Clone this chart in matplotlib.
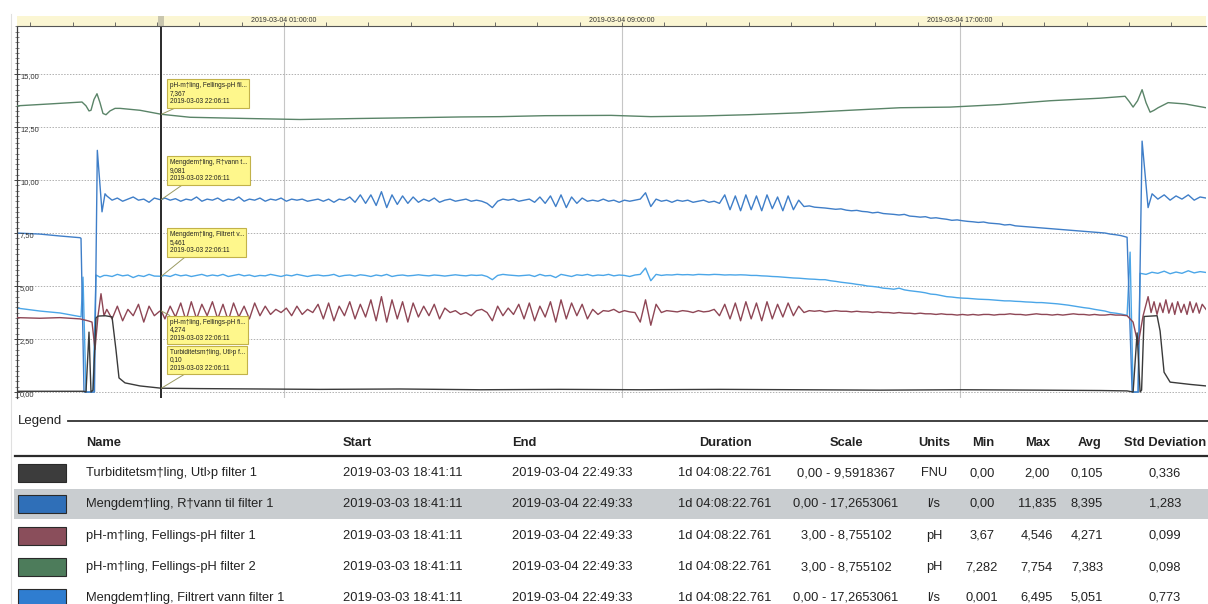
import numpy as np
import pandas as pd
import matplotlib
matplotlib.use("Agg")
import matplotlib.pyplot as plt
import matplotlib.dates as mdates
from matplotlib.lines import Line2D
from matplotlib.patches import Rectangle
from matplotlib.ticker import MultipleLocator

plt.rcParams["font.family"] = ["Liberation Sans", "DejaVu Sans"]

W, H = 1208, 604

start_time = "2019-03-03 18:41:11"
end_time = "2019-03-04 22:49:33"
cursor_time = "2019-03-03 22:06:11"
duration_text = "1d 04:08:22.761"

# ---- legend table (row order) ----
series_names = [
    "Turbiditetsm†ling, Utl›p filter 1",
    "Mengdem†ling, R†vann til filter 1",
    "pH-m†ling, Fellings-pH filter 1",
    "pH-m†ling, Fellings-pH filter 2",
    "Mengdem†ling, Filtrert vann filter 1",
]
tooltip_names = [
    "Turbiditetsm†ling, Utl›p f...",
    "Mengdem†ling, R†vann t...",
    "pH-m†ling, Fellings-pH fi...",
    "pH-m†ling, Fellings-pH fil...",
    "Mengdem†ling, Filtrert v...",
]
scale_lo = [0.0, 0.0, 3.0, 3.0, 0.0]
scale_hi = [9.5918367, 17.2653061, 8.755102, 8.755102, 17.2653061]
units = ["FNU", "l/s", "pH", "pH", "l/s"]
min_text = ["0,00", "0,00", "3,67", "7,282", "0,001"]
max_text = ["2,00", "11,835", "4,546", "7,754", "6,495"]
avg_text = ["0,105", "8,395", "4,271", "7,383", "5,051"]
std_text = ["0,336", "1,283", "0,099", "0,098", "0,773"]
line_colors = ["#3a3a3a", "#3f7ec8", "#8e4655", "#5a8468", "#4ba6e8"]
swatch_colors = ["#3c3c3c", "#2f6fb8", "#8a4e5b", "#4d7c5b", "#2f7dd0"]

# values read at the cursor
cursor_values = [0.10, 9.081, 4.274, 7.367, 5.461]
cursor_decimals = [2, 3, 3, 3, 3]

# ---- series data (hours after start, native units) ----
body_hours = 2.125 + 0.125 * np.arange(193)

raw_head_h = [0.0, 0.544, 1.018, 1.491, 1.515, 1.586, 1.834, 1.901, 2.012, 2.083]
raw_head_v = [7.5, 7.45, 7.36, 7.28, 7.25, 0.0, 0.0, 11.4, 8.5, 9.35]
raw_body = [
    9.25, 9.05, 9.15, 9.0, 9.1, 9.2, 9.05, 9.1, 8.95, 9.15,
    9.08, 9.15, 9.05, 9.12, 9.0, 9.1, 9.05, 9.2, 9.0, 9.1,
    9.05, 9.15, 9.0, 9.1, 9.05, 9.2, 9.0, 9.1, 9.05, 9.15,
    9.0, 9.1, 9.05, 9.15, 9.0, 9.1, 9.05, 9.1, 9.0, 9.05,
    9.1, 9.0, 9.1, 8.95, 9.1, 9.05, 9.2, 8.95, 9.3, 8.9,
    9.3, 8.8, 9.45, 8.7, 9.3, 8.85, 9.25, 8.9, 9.2, 8.95,
    9.1, 9.0, 9.15, 8.95, 9.05, 9.1, 9.0, 9.05, 9.1, 9.0,
    9.05, 9.0, 8.9, 8.7, 9.0, 9.1, 9.05, 9.1, 9.0, 9.05,
    9.1, 8.95, 9.2, 8.9, 9.25, 8.75, 9.3, 8.7, 9.2, 8.9,
    9.15, 9.0, 9.05, 9.0, 9.1, 9.0, 9.05, 8.95, 9.05, 9.0,
    9.05, 9.1, 9.4, 8.75, 9.1, 9.0, 9.05, 8.95, 9.05, 9.0,
    9.05, 8.95, 9.0, 9.05, 8.95, 9.0, 8.9, 9.3, 8.6, 9.25,
    8.55, 9.3, 8.6, 9.25, 8.55, 9.3, 8.65, 9.2, 8.55, 9.25,
    8.6, 9.05, 8.75, 8.78, 8.72, 8.7, 8.68, 8.65, 8.62, 8.64,
    8.58, 8.55, 8.57, 8.52, 8.5, 8.45, 8.48, 8.42, 8.4, 8.38,
    8.35, 8.38, 8.3, 8.28, 8.25, 8.27, 8.2, 8.22, 8.18, 8.15,
    8.1, 8.12, 8.08, 8.05, 8.03, 8.0, 8.02, 7.97, 7.95, 7.93,
    7.88, 7.9, 7.84, 7.82, 7.8, 7.78, 7.76, 7.74, 7.72, 7.7,
    7.68, 7.66, 7.64, 7.62, 7.6, 7.58, 7.56, 7.54, 7.52, 7.5,
    7.45, 7.42, 7.38,
]
raw_tail_h = [26.272, 26.391, 26.533, 26.627, 26.769, 26.864, 27.0, 27.15,
              27.29, 27.43, 27.57, 27.72, 27.86, 28.0, 28.139]
raw_tail_v = [7.3, 0.0, 0.0, 11.835, 8.7, 9.35, 9.1, 9.3,
              9.05, 9.25, 9.1, 9.3, 9.05, 9.2, 9.15]

filt_head_h = [0.0, 0.544, 1.018, 1.515, 1.562, 1.633, 1.799, 1.870, 1.964, 2.059]
filt_head_v = [3.96, 3.82, 3.73, 3.55, 5.42, 0.001, 0.001, 5.52, 5.42, 5.5]
filt_body = [
    5.5, 5.45, 5.55, 5.48, 5.52, 5.4, 5.5, 5.45, 5.55, 5.47,
    5.46, 5.5, 5.45, 5.55, 5.48, 5.52, 5.45, 5.5, 5.55, 5.47,
    5.52, 5.48, 5.55, 5.45, 5.5, 5.55, 5.48, 5.52, 5.45, 5.5,
    5.48, 5.55, 5.5, 5.45, 5.52, 5.48, 5.55, 5.5, 5.45, 5.5,
    5.52, 5.48, 5.5, 5.55, 5.45, 5.5, 5.52, 5.47, 5.53, 5.5,
    5.45, 5.52, 5.48, 5.55, 5.45, 5.5, 5.52, 5.48, 5.5, 5.53,
    5.5, 5.48, 5.52, 5.5, 5.47, 5.5, 5.53, 5.5, 5.48, 5.52,
    5.5, 5.52, 5.45, 5.3, 5.5, 5.55, 5.52, 5.5, 5.48, 5.5,
    5.52, 5.45, 5.55, 5.48, 5.5, 5.4, 5.55, 5.5, 5.45, 5.53,
    5.5, 5.55, 5.48, 5.52, 5.5, 5.55, 5.48, 5.52, 5.5, 5.45,
    5.52, 5.55, 5.85, 5.25, 5.55, 5.5, 5.53, 5.52, 5.55, 5.53,
    5.54, 5.52, 5.55, 5.54, 5.53, 5.55, 5.54, 5.52, 5.53, 5.52,
    5.53, 5.52, 5.5, 5.5, 5.48, 5.47, 5.45, 5.44, 5.42, 5.4,
    5.38, 5.37, 5.35, 5.33, 5.32, 5.3, 5.3, 5.25, 5.22, 5.18,
    5.15, 5.12, 5.08, 5.05, 5.0, 4.98, 4.95, 4.9, 4.88, 4.85,
    4.9, 4.82, 4.78, 4.75, 4.72, 4.68, 4.62, 4.6, 4.55, 4.5,
    4.48, 4.45, 4.43, 4.42, 4.4, 4.38, 4.37, 4.36, 4.34, 4.32,
    4.3, 4.3, 4.28, 4.27, 4.25, 4.24, 4.22, 4.22, 4.2, 4.18,
    4.16, 4.13, 4.1, 4.06, 4.02, 3.98, 3.95, 3.9, 3.86, 3.82,
    3.75, 3.72, 3.68,
]
filt_tail_h = [26.272, 26.343, 26.414, 26.533, 26.580, 26.72, 26.86, 27.0,
               27.15, 27.29, 27.43, 27.57, 27.72, 27.86, 28.0, 28.139]
filt_tail_v = [3.62, 6.6, 0.001, 0.001, 5.6, 5.55, 5.65, 5.6,
               5.7, 5.58, 5.66, 5.6, 5.72, 5.62, 5.68, 5.64]

ph1_head_h = [0.0, 0.544, 1.018, 1.491, 1.680, 1.775, 1.846, 1.917, 1.988, 2.059]
ph1_head_v = [4.17, 4.16, 4.17, 4.15, 4.12, 4.1, 3.67, 4.2, 4.546, 4.2]
ph1_body = [
    4.3, 4.15, 4.35, 4.12, 4.3, 4.2, 4.38, 4.1, 4.35, 4.2,
    4.27, 4.15, 4.35, 4.18, 4.4, 4.12, 4.42, 4.15, 4.38, 4.2,
    4.42, 4.15, 4.38, 4.12, 4.4, 4.18, 4.35, 4.15, 4.4, 4.2,
    4.35, 4.22, 4.3, 4.25, 4.32, 4.2, 4.35, 4.22, 4.3, 4.25,
    4.38, 4.15, 4.4, 4.12, 4.35, 4.2, 4.42, 4.15, 4.38, 4.18,
    4.45, 4.12, 4.5, 4.1, 4.45, 4.15, 4.42, 4.1, 4.4, 4.18,
    4.35, 4.2, 4.38, 4.15, 4.32, 4.25, 4.28, 4.22, 4.25, 4.2,
    4.28, 4.3, 4.25, 4.12, 4.35, 4.2, 4.32, 4.22, 4.38, 4.15,
    4.4, 4.12, 4.35, 4.18, 4.42, 4.1, 4.45, 4.15, 4.4, 4.2,
    4.38, 4.15, 4.3, 4.22, 4.28, 4.27, 4.3, 4.25, 4.28, 4.26,
    4.25, 4.1, 4.45, 4.05, 4.38, 4.25, 4.28, 4.27, 4.26, 4.28,
    4.27, 4.25, 4.28, 4.26, 4.27, 4.3, 4.2, 4.38, 4.15, 4.4,
    4.12, 4.42, 4.15, 4.4, 4.12, 4.42, 4.15, 4.38, 4.18, 4.4,
    4.2, 4.35, 4.25, 4.28, 4.27, 4.28, 4.26, 4.27, 4.28, 4.27,
    4.27, 4.26, 4.27, 4.26, 4.26, 4.25, 4.26, 4.25, 4.25, 4.24,
    4.25, 4.24, 4.24, 4.23, 4.24, 4.23, 4.23, 4.22, 4.23, 4.22,
    4.22, 4.21, 4.22, 4.21, 4.22, 4.21, 4.22, 4.22, 4.21, 4.22,
    4.22, 4.23, 4.22, 4.22, 4.21, 4.22, 4.23, 4.22, 4.22, 4.21,
    4.22, 4.21, 4.22, 4.23, 4.22, 4.22, 4.21, 4.22, 4.21, 4.21,
    4.22, 4.21, 4.21,
]
ph1_tail_h = [26.272, 26.414, 26.533, 26.651, 26.769, 26.840, 26.91, 26.98,
              27.05, 27.12, 27.19, 27.26, 27.34, 27.40, 27.47, 27.55,
              27.62, 27.69, 27.76, 27.83, 27.91, 27.98, 28.05, 28.139]
ph1_tail_v = [4.2, 4.1, 3.75, 4.2, 4.5, 4.25, 4.42, 4.22,
              4.4, 4.25, 4.45, 4.24, 4.4, 4.22, 4.42, 4.25,
              4.38, 4.22, 4.42, 4.25, 4.4, 4.24, 4.38, 4.3]

ph2_hours = [0.0, 0.781, 1.538, 1.633, 1.704, 1.751, 1.822, 1.893, 1.964,
             2.035, 2.106, 2.201, 2.320, 2.438, 2.911, 4.095, 5.515, 6.698,
             8.0, 9.065, 10.5, 11.432, 12.5, 14.059, 15.0, 16.166, 17.3,
             18.533, 19.7, 20.899, 22.083, 23.266, 24.450, 25.633, 26.225,
             26.32, 26.414, 26.52, 26.627, 26.72, 26.817, 26.91, 27.006,
             27.243, 27.645, 28.139]
ph2_values = [7.50, 7.53, 7.56, 7.50, 7.42, 7.43, 7.60, 7.69, 7.55,
              7.38, 7.36, 7.42, 7.46, 7.46, 7.43, 7.32, 7.30, 7.285,
              7.30, 7.31, 7.325, 7.33, 7.345, 7.35, 7.33, 7.34, 7.36,
              7.39, 7.43, 7.47, 7.48, 7.52, 7.58, 7.62, 7.65,
              7.57, 7.48, 7.58, 7.754, 7.55, 7.40, 7.43, 7.47,
              7.55, 7.53, 7.47]

turb_hours = [0.0, 1.586, 1.633, 1.704, 1.751, 1.799, 1.870, 1.917, 2.083,
              2.249, 2.343, 2.414, 2.556, 2.911, 4.331, 5.751, 7.171, 9.065,
              10.958, 12.852, 14.745, 16.639, 18.533, 20.426, 22.320, 24.213,
              25.633, 26.272, 26.414, 26.509, 26.580, 26.615, 26.675, 26.982,
              27.053, 27.147, 27.290, 27.763, 28.139]
turb_values = [0.02, 0.02, 0.0, 1.57, 0.0, 0.05, 1.94, 1.99, 2.0,
               1.97, 1.1, 0.37, 0.24, 0.16, 0.09, 0.08, 0.07, 0.08,
               0.06, 0.07, 0.06, 0.07, 0.06, 0.05, 0.06, 0.05,
               0.04, 0.03, 0.0, 1.55, 0.0, 0.05, 1.98, 2.0,
               1.6, 0.52, 0.26, 0.2, 0.16]

# ---- helpers ----
t0 = mdates.date2num(pd.Timestamp(start_time).to_pydatetime())
t_end = mdates.date2num(pd.Timestamp(end_time).to_pydatetime())
t_cur = mdates.date2num(pd.Timestamp(cursor_time).to_pydatetime())
cursor_hours = (t_cur - t0) * 24.0


def assemble(parts_h, parts_v, cursor_v):
    h = np.concatenate([np.asarray(p, float) for p in parts_h] + [[cursor_hours]])
    v = np.concatenate([np.asarray(p, float) for p in parts_v] + [[cursor_v]])
    order = np.argsort(h, kind="stable")
    return t0 + h[order] / 24.0, v[order]


series_xy = [
    assemble([turb_hours], [turb_values], cursor_values[0]),
    assemble([raw_head_h, body_hours, raw_tail_h], [raw_head_v, raw_body, raw_tail_v], cursor_values[1]),
    assemble([ph1_head_h, body_hours, ph1_tail_h], [ph1_head_v, ph1_body, ph1_tail_v], cursor_values[2]),
    assemble([ph2_hours], [ph2_values], cursor_values[3]),
    assemble([filt_head_h, body_hours, filt_tail_h], [filt_head_v, filt_body, filt_tail_v], cursor_values[4]),
]


def fx(x):
    return x / W


def fy(y):
    return 1 - y / H


fig = plt.figure(figsize=(W / 100, H / 100), dpi=100)
fig.patch.set_facecolor("white")

# ---- chart area ----
PLOT_L, PLOT_R, PLOT_T, PLOT_B = 17, 1206, 26, 398.4
ax = fig.add_axes([fx(PLOT_L), fy(PLOT_B), (PLOT_R - PLOT_L) / W, (PLOT_B - PLOT_T) / H])
ax.set_facecolor("white")
pad_frac = 0.3 / 17.2653061


def ylim_for(lo, hi):
    return (lo - pad_frac * (hi - lo), hi)


ax.set_xlim(t0, t_end)
ax.set_ylim(*ylim_for(0.0, 17.2653061))

axes_by_scale = {(0.0, 17.2653061): ax}
for k in [2, 0]:
    key = (scale_lo[k], scale_hi[k])
    if key not in axes_by_scale:
        tw = ax.twinx()
        tw.set_ylim(*ylim_for(*key))
        tw.set_yticks([])
        for s in tw.spines.values():
            s.set_visible(False)
        axes_by_scale[key] = tw
series_axes = [axes_by_scale[(scale_lo[k], scale_hi[k])] for k in range(5)]

for k in [4, 1, 3, 2, 0]:
    xs, vs = series_xy[k]
    series_axes[k].plot(xs, vs, color=line_colors[k], lw=1.0, solid_joinstyle="round")

# grid and y axis
ax.xaxis.set_major_locator(mdates.HourLocator(byhour=[1, 9, 17]))
ax.tick_params(axis="x", which="both", bottom=False, labelbottom=False)
ax.grid(axis="x", color="#c6c6c6", lw=0.8)
yt = np.arange(0, 17.0, 2.5)
ax.set_yticks(yt)
ax.yaxis.set_minor_locator(MultipleLocator(0.25))
ax.grid(axis="y", which="major", color="#b0b0b0", lw=0.7, ls=(0, (1.5, 1.5)))
ax.tick_params(axis="y", which="major", direction="inout", length=5, width=0.7,
               color="#444444", labelleft=False)
ax.tick_params(axis="y", which="minor", direction="inout", length=3, width=0.5,
               color="#555555")
for side in ["top", "right", "bottom"]:
    ax.spines[side].set_visible(False)
ax.spines["left"].set_color("#3c3c3c")
ax.spines["left"].set_linewidth(0.9)
for v in yt:
    ax.annotate(f"{v:.2f}".replace(".", ","), xy=(0, v),
                xycoords=("axes fraction", "data"), xytext=(3, -3),
                textcoords="offset pixels", ha="left", va="center",
                fontsize=5.4, color="#333333")

# ---- time band on top ----
band = fig.add_axes([fx(PLOT_L), fy(PLOT_T), (PLOT_R - PLOT_L) / W, 10 / H])
band.set_facecolor("#fbf6d3")
band.set_xlim(t0, t_end)
band.set_ylim(0, 1)
band.set_yticks([])
band.xaxis.set_major_locator(mdates.HourLocator(byhour=[1, 9, 17]))
band.xaxis.set_minor_locator(mdates.HourLocator())
band.tick_params(axis="x", which="both", direction="in", length=3, width=0.6,
                 color="#555555", labelbottom=False)
for side in ["top", "left", "right"]:
    band.spines[side].set_visible(False)
band.spines["bottom"].set_color("#555555")
band.spines["bottom"].set_linewidth(0.8)
for t in band.get_xticks():
    if t0 <= t <= t_end:
        band.text(t, 0.55, mdates.num2date(t).strftime("%Y-%m-%d %H:%M:%S"),
                  ha="center", va="center", fontsize=5.0, color="#333333")
days_per_px = (t_end - t0) / (PLOT_R - PLOT_L)
band.add_patch(Rectangle((t_cur - 3 * days_per_px, 0), 6 * days_per_px, 1,
                         facecolor="#c9c6ae", edgecolor="none"))

# ---- cursor and readouts ----
top_ax = series_axes[0]
top_ax.axvline(t_cur, color="#2a2a2a", lw=1.4, zorder=6)

box_tops = [348.5, 159, 318.5, 82, 231]
box_relpos = [(0.26, 0), (0.22, 0), (0.08, 1), (0.16, 0), (0.26, 0)]
for k in range(5):
    txt = "\n".join([tooltip_names[k],
                     f"{cursor_values[k]:.{cursor_decimals[k]}f}".replace(".", ","),
                     cursor_time])
    top_ax.annotate(txt, xy=(t_cur, cursor_values[k]), xycoords=series_axes[k].transData,
                    xytext=(169.5, H - box_tops[k]), textcoords="figure pixels",
                    ha="left", va="top", fontsize=4.7, color="#222222", linespacing=1.2,
                    bbox=dict(boxstyle="square,pad=0.4", fc="#fef78c", ec="#c2b24a", lw=0.8),
                    arrowprops=dict(arrowstyle="-", color="#9a9a62", lw=0.7,
                                    shrinkA=0, shrinkB=0, relpos=box_relpos[k]),
                    annotation_clip=False, zorder=10)

# faint panel border
fig.add_artist(Line2D([fx(11), fx(11)], [fy(14), 0], color="#e0e0e0", lw=0.8))

# ---- legend table ----
fig.text(fx(18), fy(421), "Legend", ha="left", va="center", fontsize=9.5, color="#222222")
fig.add_artist(Line2D([fx(68), 1.0], [fy(421), fy(421)], color="#333333", lw=1.3))

headers = ["Name", "Start", "End", "Duration", "Scale", "Units", "Min", "Max", "Avg", "Std Deviation"]
header_x = [86, 343, 512, 725, 846, 934, 983, 1038, 1090, 1165]
col_x = [86, 343, 512, 725, 846, 934, 982, 1037, 1087, 1165]
col_ha = ["left", "left", "left", "center", "center", "center", "center", "center", "center", "center"]
for hname, hx, ha in zip(headers, header_x, col_ha):
    fig.text(fx(hx), fy(443), hname, ha=ha, va="center", fontsize=9.3,
             fontweight="bold", color="#222222")
fig.add_artist(Line2D([fx(15), 1.0], [fy(456), fy(456)], color="#2b2b2b", lw=1.6))

row_y = [473, 504, 536, 567, 598]
highlight_row = 1
yc = row_y[highlight_row]
fig.add_artist(Rectangle((fx(14), fy(yc + 15)), 1 - fx(14), 30 / H,
                         facecolor="#c9cdd0", edgecolor="none", zorder=0))

for k in range(5):
    yc = row_y[k]
    fig.add_artist(Rectangle((fx(18), fy(yc + 9)), 48 / W, 18 / H,
                             facecolor=swatch_colors[k], edgecolor="#2a2a2a", lw=0.8))
    scale_txt = f"{scale_lo[k]:.2f}".replace(".", ",") + " - " + f"{scale_hi[k]}".replace(".", ",")
    cells = [series_names[k], start_time, end_time, duration_text, scale_txt,
             units[k], min_text[k], max_text[k], avg_text[k], std_text[k]]
    for cell, cx, ha in zip(cells, col_x, col_ha):
        fig.text(fx(cx), fy(yc), cell, ha=ha, va="center", fontsize=9.3, color="#222222")

fig.savefig("out.png", dpi=100)
